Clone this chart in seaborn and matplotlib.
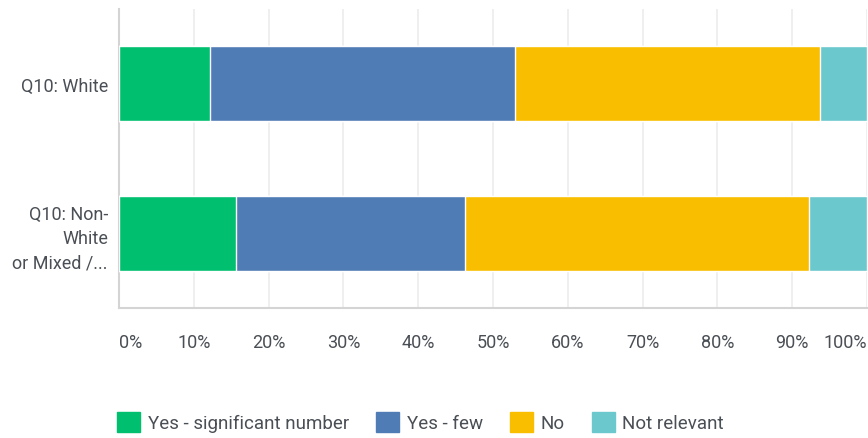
import numpy as np
import pandas as pd
import matplotlib
matplotlib.use("Agg")
import matplotlib.pyplot as plt
import matplotlib.patches as mpatches
import seaborn as sns

# Survey data (percent of respondents)
groups = ["Q10: White", "Q10: Non-\nWhite\nor Mixed /..."]
series = ["Yes - significant number", "Yes - few", "No", "Not relevant"]
yes_significant = [12.1, 15.6]
yes_few = [40.8, 30.7]
no = [40.8, 46.0]
not_relevant = [6.3, 7.7]
colors = ["#00BF6F", "#507CB6", "#F9BE00", "#6BC8CD"]
tick_labels = ["0%", "10%", "20%", "30%", "40%", "50%", "60%", "70%", "80%", "90%", "100%"]

text_color = "#4a4f55"

sns.set_style("white")
plt.rcParams["font.family"] = ["Roboto", "DejaVu Sans"]

df = pd.DataFrame({"group": groups,
                   series[0]: yes_significant,
                   series[1]: yes_few,
                   series[2]: no,
                   series[3]: not_relevant})
cum = df[series].cumsum(axis=1)
cum["group"] = df["group"]

fig = plt.figure(figsize=(8.68, 4.39), dpi=100)
ax = fig.add_axes([119 / 868, 1 - 309 / 439, 748 / 868, 299 / 439])

# stacked: draw cumulative totals from the widest down
for name, col in reversed(list(zip(series, colors))):
    sns.barplot(data=cum, x=name, y="group", orient="h", color=col,
                width=0.5, saturation=1, ax=ax, zorder=3)

ax.set_xlim(0, 100)
ax.set_ylim(1.5, -0.5)
ax.set_xticks(np.arange(0, 101, 10))
ax.set_xticklabels(tick_labels)
for i, lab in enumerate(ax.get_xticklabels()):
    if i == 0:
        lab.set_ha("left")
    elif i == len(tick_labels) - 1:
        lab.set_ha("right")
ax.tick_params(axis="x", length=0, pad=18, labelsize=13, labelcolor=text_color)
ax.tick_params(axis="y", length=0, pad=8, labelsize=13, labelcolor=text_color)
for lab in ax.get_yticklabels():
    lab.set_multialignment("right")
    lab.set_linespacing(1.45)
ax.set_xlabel("")
ax.set_ylabel("")
ax.grid(axis="x", color="#ececec", linewidth=1.2, zorder=0)
ax.set_axisbelow(True)
for s in ["top", "right"]:
    ax.spines[s].set_visible(False)
ax.spines["left"].set_color("#d4d4d4")
ax.spines["bottom"].set_color("#d4d4d4")
ax.spines["left"].set_linewidth(1.5)
ax.spines["bottom"].set_linewidth(1.5)

handles = [mpatches.Patch(facecolor=c, edgecolor=c, label=s) for s, c in zip(series, colors)]
fig.legend(handles=handles, loc="center left", bbox_to_anchor=(117 / 868, 1 - 423 / 439),
           ncol=4, frameon=False, fontsize=13.5, labelcolor=text_color, borderpad=0,
           borderaxespad=0, handlelength=1.25, handleheight=1.25, handletextpad=0.38,
           columnspacing=1.45)

fig.savefig("out.png", dpi=100)
